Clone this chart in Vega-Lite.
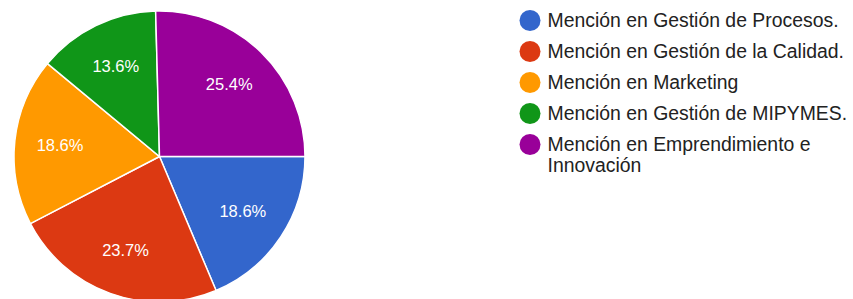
{
  "$schema": "https://vega.github.io/schema/vega-lite/v6.json",
  "width": 319,
  "height": 313,
  "padding": {"left": 0, "top": 0, "right": 534, "bottom": 0},
  "autosize": "none",
  "background": "white",
  "data": {
    "values": [
      {"k": 1, "cat": "Mención en Gestión de Procesos.", "n": 11, "pct": "18.6%"},
      {"k": 2, "cat": "Mención en Gestión de la Calidad.", "n": 14, "pct": "23.7%"},
      {"k": 3, "cat": "Mención en Marketing", "n": 11, "pct": "18.6%"},
      {"k": 4, "cat": "Mención en Gestión de MIPYMES.", "n": 8, "pct": "13.6%"},
      {"k": 5, "cat": "Mención en Emprendimiento e Innovación", "n": 15, "pct": "25.4%"}
    ]
  },
  "encoding": {
    "theta": {"field": "n", "type": "quantitative", "stack": true, "scale": {"range": [1.5708, 7.854]}},
    "order": {"field": "k", "type": "quantitative"},
    "color": {
      "field": "cat",
      "type": "nominal",
      "scale": {
        "domain": ["Mención en Gestión de Procesos.", "Mención en Gestión de la Calidad.", "Mención en Marketing", "Mención en Gestión de MIPYMES.", "Mención en Emprendimiento e Innovación"],
        "range": ["#3366cc", "#dc3912", "#ff9900", "#109618", "#990099"]
      },
      "legend": {
        "title": null,
        "orient": "none",
        "legendX": 519.5,
        "legendY": 10,
        "symbolType": "circle",
        "symbolSize": 441,
        "symbolStrokeWidth": 0,
        "labelFont": "Liberation Sans",
        "labelFontSize": 19.4,
        "labelColor": "#222222",
        "labelLimit": 400,
        "labelOffset": 7,
        "rowPadding": 10,
        "labelExpr": "datum.label == 'Mención en Emprendimiento e Innovación' ? ['Mención en Emprendimiento e', 'Innovación'] : datum.label"
      }
    }
  },
  "layer": [
    {"mark": {"type": "arc", "radius": 145.5, "stroke": "white", "strokeWidth": 1.5}},
    {
      "mark": {"type": "text", "radius": 100, "font": "Liberation Sans", "fontSize": 16.5, "fill": "white"},
      "encoding": {"text": {"field": "pct"}, "color": {"value": "white"}}
    }
  ]
}
